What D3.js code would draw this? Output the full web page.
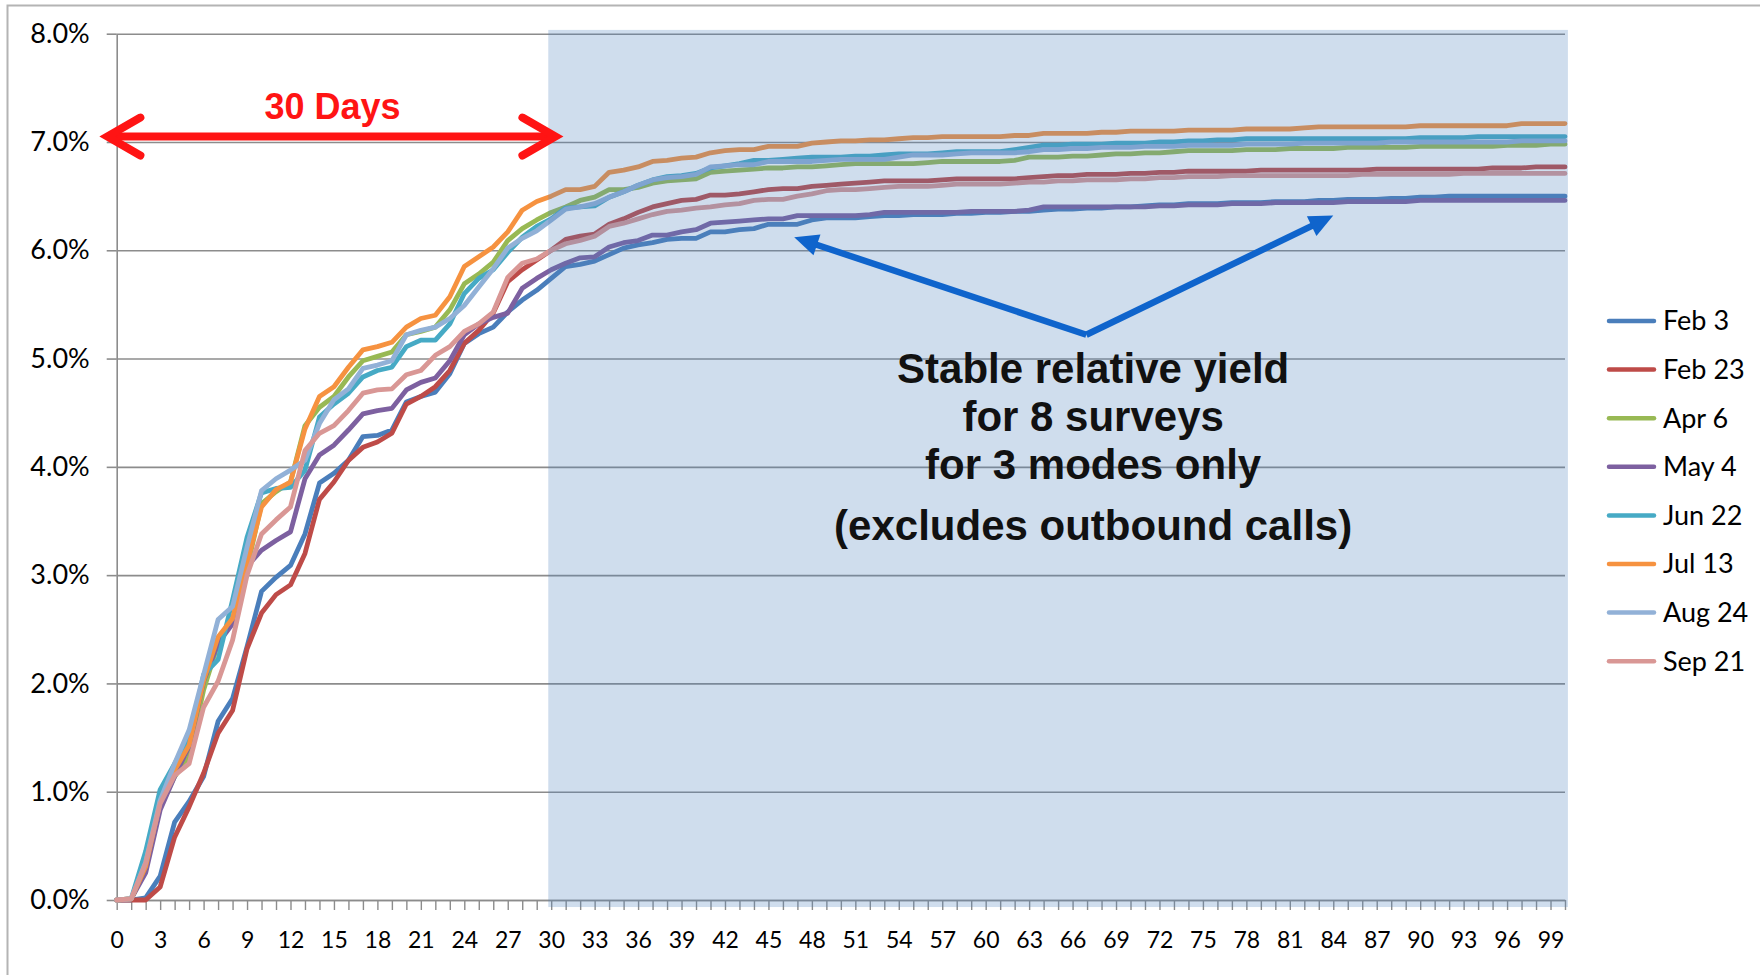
<!DOCTYPE html>
<html>
<head>
<meta charset="utf-8">
<script src="https://cdn.jsdelivr.net/npm/d3@7"></script>
<style>
  body { margin: 0; background: #fff; }
  svg { display: block; }
</style>
</head>
<body>
<script>
"use strict";

const width = 1760;
const height = 975;

// day index 0..100
const days = d3.range(0, 101);
const yTicks = [0, 1, 2, 3, 4, 5, 6, 7, 8];

const seriesNames = ["Feb 3", "Feb 23", "Apr 6", "May 4", "Jun 22", "Jul 13", "Aug 24", "Sep 21"];
const seriesColors = ["#4A7EBB", "#BE4B48", "#98B954", "#7D60A0", "#46AAC5", "#F69240", "#92B1D7", "#D99795"];

// cumulative relative yield, %
const feb3 = [
  0, 0, 0.02, 0.22, 0.72, 0.91, 1.14, 1.65, 1.86, 2.34,
  2.85, 2.98, 3.09, 3.38, 3.85, 3.94, 4.06, 4.28, 4.29, 4.34,
  4.60, 4.65, 4.69, 4.86, 5.14, 5.23, 5.29, 5.43, 5.54, 5.63,
  5.74, 5.85, 5.87, 5.90, 5.96, 6.02, 6.05, 6.07, 6.10, 6.11,
  6.11, 6.17, 6.17, 6.19, 6.20, 6.24, 6.24, 6.24, 6.28, 6.30,
  6.30, 6.30, 6.31, 6.32, 6.32, 6.33, 6.33, 6.33, 6.34, 6.34,
  6.35, 6.35, 6.36, 6.36, 6.37, 6.38, 6.38, 6.39, 6.39, 6.40,
  6.40, 6.41, 6.42, 6.42, 6.43, 6.43, 6.43, 6.44, 6.44, 6.44,
  6.45, 6.45, 6.45, 6.46, 6.46, 6.47, 6.47, 6.47, 6.48, 6.48,
  6.49, 6.49, 6.50, 6.50, 6.50, 6.50, 6.50, 6.50, 6.50, 6.50, 6.50
];
const feb23 = [
  0, 0, 0, 0.12, 0.58, 0.86, 1.17, 1.54, 1.75, 2.32,
  2.65, 2.82, 2.91, 3.20, 3.70, 3.86, 4.06, 4.18, 4.23, 4.31,
  4.58, 4.65, 4.74, 4.89, 5.14, 5.26, 5.42, 5.71, 5.82, 5.91,
  6.00, 6.10, 6.13, 6.15, 6.24, 6.29, 6.35, 6.40, 6.43, 6.46,
  6.47, 6.51, 6.51, 6.52, 6.54, 6.56, 6.57, 6.57, 6.59, 6.60,
  6.61, 6.62, 6.63, 6.64, 6.64, 6.64, 6.64, 6.65, 6.66, 6.66,
  6.66, 6.66, 6.66, 6.67, 6.68, 6.69, 6.69, 6.70, 6.70, 6.70,
  6.71, 6.71, 6.72, 6.72, 6.73, 6.73, 6.73, 6.73, 6.73, 6.74,
  6.74, 6.74, 6.74, 6.74, 6.74, 6.74, 6.74, 6.75, 6.75, 6.75,
  6.75, 6.75, 6.75, 6.75, 6.75, 6.76, 6.76, 6.76, 6.77, 6.77, 6.77
];
const apr6 = [
  0, 0.01, 0.29, 0.86, 1.14, 1.32, 1.94, 2.37, 2.58, 3.06,
  3.66, 3.77, 3.86, 4.38, 4.55, 4.65, 4.83, 4.98, 5.02, 5.06,
  5.22, 5.25, 5.29, 5.45, 5.69, 5.78, 5.89, 6.09, 6.20, 6.28,
  6.35, 6.40, 6.46, 6.49, 6.56, 6.56, 6.58, 6.62, 6.64, 6.65,
  6.66, 6.72, 6.73, 6.74, 6.75, 6.76, 6.76, 6.77, 6.77, 6.78,
  6.79, 6.80, 6.80, 6.80, 6.80, 6.80, 6.81, 6.82, 6.82, 6.82,
  6.82, 6.82, 6.83, 6.86, 6.86, 6.86, 6.87, 6.87, 6.88, 6.89,
  6.89, 6.90, 6.90, 6.91, 6.92, 6.92, 6.92, 6.92, 6.93, 6.93,
  6.93, 6.94, 6.94, 6.94, 6.94, 6.95, 6.95, 6.95, 6.95, 6.95,
  6.96, 6.96, 6.96, 6.96, 6.96, 6.96, 6.97, 6.97, 6.97, 6.98, 6.98
];
const may4 = [
  0, 0.01, 0.25, 0.83, 1.14, 1.42, 2.02, 2.37, 2.55, 3.08,
  3.23, 3.32, 3.40, 3.89, 4.11, 4.20, 4.34, 4.49, 4.52, 4.54,
  4.71, 4.78, 4.82, 4.98, 5.22, 5.32, 5.38, 5.42, 5.65, 5.74,
  5.82, 5.88, 5.93, 5.94, 6.03, 6.07, 6.09, 6.14, 6.14, 6.17,
  6.19, 6.25, 6.26, 6.27, 6.28, 6.29, 6.29, 6.32, 6.32, 6.32,
  6.32, 6.32, 6.33, 6.35, 6.35, 6.35, 6.35, 6.35, 6.35, 6.36,
  6.36, 6.36, 6.36, 6.37, 6.40, 6.40, 6.40, 6.40, 6.40, 6.40,
  6.40, 6.40, 6.41, 6.41, 6.42, 6.42, 6.42, 6.43, 6.43, 6.43,
  6.44, 6.44, 6.44, 6.44, 6.44, 6.45, 6.45, 6.45, 6.45, 6.45,
  6.46, 6.46, 6.46, 6.46, 6.46, 6.46, 6.46, 6.46, 6.46, 6.46, 6.46
];
const jun22 = [
  0, 0.01, 0.45, 1.02, 1.26, 1.48, 2.08, 2.22, 2.77, 3.35,
  3.76, 3.80, 3.81, 3.97, 4.46, 4.58, 4.68, 4.83, 4.89, 4.92,
  5.11, 5.17, 5.17, 5.32, 5.60, 5.74, 5.82, 5.98, 6.12, 6.22,
  6.29, 6.39, 6.40, 6.41, 6.49, 6.54, 6.60, 6.65, 6.68, 6.69,
  6.71, 6.76, 6.78, 6.80, 6.83, 6.83, 6.84, 6.85, 6.86, 6.86,
  6.86, 6.87, 6.87, 6.88, 6.89, 6.89, 6.89, 6.90, 6.91, 6.91,
  6.91, 6.91, 6.93, 6.95, 6.97, 6.97, 6.98, 6.98, 6.98, 6.99,
  6.99, 6.99, 7.00, 7.00, 7.01, 7.01, 7.02, 7.02, 7.03, 7.03,
  7.03, 7.03, 7.03, 7.03, 7.03, 7.03, 7.03, 7.03, 7.03, 7.03,
  7.04, 7.04, 7.04, 7.04, 7.05, 7.05, 7.05, 7.05, 7.05, 7.05, 7.05
];
const jul13 = [
  0, 0.01, 0.31, 0.91, 1.20, 1.43, 2.03, 2.43, 2.60, 3.11,
  3.63, 3.79, 3.86, 4.35, 4.65, 4.74, 4.92, 5.08, 5.11, 5.15,
  5.29, 5.37, 5.40, 5.57, 5.85, 5.94, 6.03, 6.17, 6.37, 6.45,
  6.50, 6.56, 6.56, 6.59, 6.72, 6.74, 6.77, 6.82, 6.83, 6.85,
  6.86, 6.90, 6.92, 6.93, 6.93, 6.96, 6.96, 6.96, 6.99, 7.00,
  7.01, 7.01, 7.02, 7.02, 7.03, 7.04, 7.04, 7.05, 7.05, 7.05,
  7.05, 7.05, 7.06, 7.06, 7.08, 7.08, 7.08, 7.08, 7.09, 7.09,
  7.10, 7.10, 7.10, 7.10, 7.11, 7.11, 7.11, 7.11, 7.12, 7.12,
  7.12, 7.12, 7.13, 7.14, 7.14, 7.14, 7.14, 7.14, 7.14, 7.14,
  7.15, 7.15, 7.15, 7.15, 7.15, 7.15, 7.15, 7.17, 7.17, 7.17, 7.17
];
const aug24 = [
  0, 0.01, 0.35, 0.92, 1.26, 1.57, 2.08, 2.59, 2.71, 3.26,
  3.78, 3.89, 3.97, 4.06, 4.40, 4.62, 4.72, 4.91, 4.94, 4.98,
  5.22, 5.26, 5.29, 5.37, 5.49, 5.66, 5.83, 6.02, 6.11, 6.18,
  6.28, 6.38, 6.40, 6.43, 6.49, 6.54, 6.60, 6.65, 6.67, 6.68,
  6.70, 6.77, 6.78, 6.79, 6.79, 6.82, 6.82, 6.82, 6.82, 6.83,
  6.84, 6.84, 6.84, 6.84, 6.86, 6.88, 6.88, 6.88, 6.89, 6.90,
  6.90, 6.90, 6.90, 6.91, 6.93, 6.93, 6.94, 6.94, 6.95, 6.95,
  6.95, 6.96, 6.96, 6.96, 6.97, 6.97, 6.97, 6.97, 6.98, 6.98,
  6.98, 6.98, 6.99, 6.99, 6.99, 6.99, 6.99, 6.99, 7.00, 7.00,
  7.00, 7.00, 7.00, 7.00, 7.00, 7.00, 7.00, 7.01, 7.01, 7.01, 7.01
];
const sep21 = [
  0, 0.01, 0.34, 0.89, 1.15, 1.26, 1.78, 2.02, 2.40, 3.00,
  3.38, 3.51, 3.63, 4.15, 4.31, 4.38, 4.52, 4.68, 4.71, 4.72,
  4.85, 4.89, 5.03, 5.11, 5.25, 5.32, 5.43, 5.75, 5.88, 5.92,
  6.00, 6.06, 6.09, 6.13, 6.22, 6.25, 6.29, 6.33, 6.36, 6.37,
  6.39, 6.40, 6.42, 6.43, 6.46, 6.47, 6.47, 6.50, 6.52, 6.55,
  6.56, 6.56, 6.57, 6.58, 6.59, 6.59, 6.59, 6.60, 6.61, 6.61,
  6.61, 6.61, 6.62, 6.63, 6.63, 6.64, 6.64, 6.65, 6.65, 6.65,
  6.66, 6.66, 6.67, 6.67, 6.68, 6.68, 6.68, 6.69, 6.69, 6.69,
  6.69, 6.69, 6.69, 6.69, 6.69, 6.69, 6.70, 6.70, 6.70, 6.70,
  6.70, 6.70, 6.70, 6.71, 6.71, 6.71, 6.71, 6.71, 6.71, 6.71, 6.71
];

const seriesValues = [feb3, feb23, apr6, may4, jun22, jul13, aug24, sep21];

const svg = d3.select("body").append("svg")
  .attr("width", width)
  .attr("height", height);

// outer chart border (only top and left edges fall inside the picture)
svg.append("rect")
  .attr("x", 7.5).attr("y", 5.5)
  .attr("width", 1800).attr("height", 1000)
  .attr("fill", "none")
  .attr("stroke", "#b4b4b4")
  .attr("stroke-width", 2);

const x = d3.scaleLinear().domain([0, 100]).range([116.7, 1565]);
const y = d3.scaleLinear().domain([0, 8]).range([900, 33.7]);

const gridColor = "#8c8c8c";
const labelFont = "Lato, 'DejaVu Sans', sans-serif";

// horizontal gridlines
svg.append("g")
  .attr("transform", `translate(${x(0)},0)`)
  .call(d3.axisLeft(y).tickValues(yTicks).tickSize(-(x(100) - x(0))).tickFormat(""))
  .call(g => g.select(".domain").remove())
  .call(g => g.selectAll("line").attr("stroke", gridColor).attr("stroke-width", 1.6));

// y axis with labels
svg.append("g")
  .attr("transform", `translate(${x(0)},0)`)
  .call(d3.axisLeft(y).tickValues(yTicks).tickSize(10).tickSizeOuter(0).tickPadding(17)
    .tickFormat(d => d.toFixed(1) + "%"))
  .call(g => g.select(".domain").attr("stroke", gridColor).attr("stroke-width", 1.6))
  .call(g => g.selectAll("line").attr("stroke", gridColor).attr("stroke-width", 1.6))
  .call(g => g.selectAll("text")
    .attr("fill", "#000")
    .style("font-family", labelFont)
    .style("font-size", "27px"));

// x axis: tick every day, label every third day
svg.append("g")
  .attr("transform", `translate(0,${y(0)})`)
  .call(d3.axisBottom(x).tickValues(days).tickSize(10).tickSizeOuter(0).tickPadding(22)
    .tickFormat(d => (d % 3 === 0 && d < 100) ? d : ""))
  .call(g => g.select(".domain").attr("stroke", gridColor).attr("stroke-width", 1.6))
  .call(g => g.selectAll("line").attr("stroke", gridColor).attr("stroke-width", 1.4))
  .call(g => g.selectAll("text")
    .attr("fill", "#000")
    .style("font-family", labelFont)
    .style("font-size", "23px"));

// survey lines
const line = d3.line()
  .x((d, i) => x(days[i]))
  .y(d => y(d));

svg.append("g")
  .selectAll("path")
  .data(seriesValues)
  .enter()
  .append("path")
  .attr("d", line)
  .attr("fill", "none")
  .attr("stroke", (d, i) => seriesColors[i])
  .attr("stroke-width", 4.8)
  .attr("stroke-linejoin", "round")
  .attr("stroke-linecap", "round");

// translucent box over the "after 30 days" part
svg.append("rect")
  .attr("x", x(29.8))
  .attr("y", y(8.035))
  .attr("width", x(100.2) - x(29.8))
  .attr("height", y(-0.065) - y(8.035))
  .attr("fill", "#4F81BD")
  .attr("opacity", 0.27);

// red 30-day double arrow
const red = "#ff1414";
const ra = { from: -0.85, to: 30.5, at: 7.05 };
const ry = y(ra.at);
const rx0 = x(ra.from);
const rx1 = x(ra.to);
const redG = svg.append("g")
  .attr("fill", "none")
  .attr("stroke", red)
  .attr("stroke-width", 8)
  .attr("stroke-linecap", "round")
  .attr("stroke-linejoin", "miter");
redG.append("line")
  .attr("x1", rx0 + 4).attr("y1", ry)
  .attr("x2", rx1 - 4).attr("y2", ry)
  .attr("stroke-linecap", "butt");
redG.append("path")
  .attr("d", `M${rx0 + 36},${ry - 19} L${rx0 + 3},${ry} L${rx0 + 36},${ry + 19}`);
redG.append("path")
  .attr("d", `M${rx1 - 36},${ry - 19} L${rx1 - 3},${ry} L${rx1 - 36},${ry + 19}`);

svg.append("text")
  .attr("x", x(14.9))
  .attr("y", y(7.21))
  .attr("text-anchor", "middle")
  .attr("fill", red)
  .style("font-family", "'Liberation Sans', Arial, sans-serif")
  .style("font-weight", "bold")
  .style("font-size", "36px")
  .text("30 Days");

// blue arrows pointing at the plateau
const blue = "#0F64CC";
const arrowFrom = [66.95, 5.22];
const arrowTips = [[46.78, 6.12], [84.0, 6.32]];
const blueG = svg.append("g");
arrowTips.forEach(t => {
  const ox = x(arrowFrom[0]), oy = y(arrowFrom[1]);
  const tx = x(t[0]), ty = y(t[1]);
  const ang = Math.atan2(ty - oy, tx - ox);
  const headLen = 24, headHalf = 11;
  const bx = tx - headLen * Math.cos(ang);
  const by = ty - headLen * Math.sin(ang);
  blueG.append("line")
    .attr("x1", ox).attr("y1", oy)
    .attr("x2", bx + 2 * Math.cos(ang)).attr("y2", by + 2 * Math.sin(ang))
    .attr("stroke", blue)
    .attr("stroke-width", 6.5);
  const px = -Math.sin(ang), py = Math.cos(ang);
  blueG.append("path")
    .attr("d", `M${tx},${ty} L${bx + headHalf * px},${by + headHalf * py} L${bx - headHalf * px},${by - headHalf * py} Z`)
    .attr("fill", blue);
});

// annotation text
const noteLines = ["Stable relative yield", "for 8 surveys", "for 3 modes only", "(excludes outbound calls)"];
const noteBaselines = [4.774, 4.33, 3.887, 3.324];
svg.append("g")
  .selectAll("text")
  .data(noteLines)
  .enter()
  .append("text")
  .attr("x", x(67.42))
  .attr("y", (d, i) => y(noteBaselines[i]))
  .attr("text-anchor", "middle")
  .attr("fill", "#111")
  .style("font-family", "'Liberation Sans', Arial, sans-serif")
  .style("font-weight", "bold")
  .style("font-size", "42px")
  .text(d => d);

// legend
const legend = svg.append("g").attr("transform", "translate(1609,321)");
const legendItem = legend.selectAll("g")
  .data(seriesNames)
  .enter()
  .append("g")
  .attr("transform", (d, i) => `translate(0,${i * 48.6})`);
legendItem.append("line")
  .attr("x1", 0).attr("x2", 45)
  .attr("y1", 0).attr("y2", 0)
  .attr("stroke", (d, i) => seriesColors[i])
  .attr("stroke-width", 4.5)
  .attr("stroke-linecap", "round");
legendItem.append("text")
  .attr("x", 54)
  .attr("y", 0)
  .attr("dy", "0.35em")
  .attr("fill", "#000")
  .style("font-family", labelFont)
  .style("font-size", "27px")
  .text(d => d);
</script>
</body>
</html>
